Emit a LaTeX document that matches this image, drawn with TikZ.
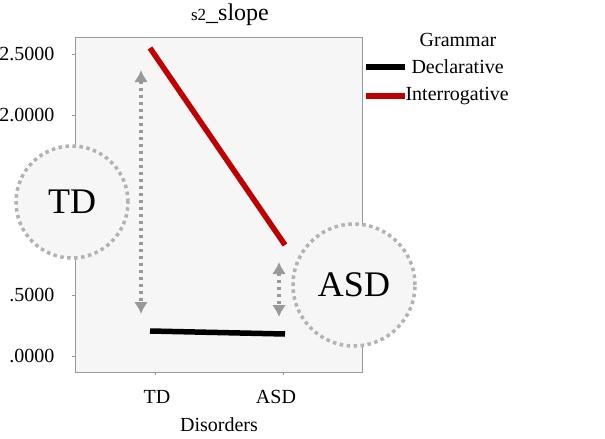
\documentclass[tikz,border=0pt]{standalone}
\usepackage{fontspec}
\setmainfont{Liberation Serif}
\begin{document}
\begin{tikzpicture}[x=1pt,y=-1pt,
  tick/.style={font=\fontsize{20}{22}\selectfont},
  circ/.style={circle,fill=gray!7,draw=gray!60,line width=3.5pt,dash pattern=on 3.5pt off 3.5pt,minimum size=#1,inner sep=0pt,font=\fontsize{36}{38}\selectfont},
  gap/.style={gray!80,line width=3.5pt,dash pattern=on 3.5pt off 3.5pt,<->,>={Latex[length=12pt,width=14pt]}}]
\usetikzlibrary{arrows.meta}
\useasboundingbox (0,0) rectangle (605,439);
\fill[white] (0,0) rectangle (605,439);
\node[font=\fontsize{24}{26}\selectfont] (title) at (230,15) {{\fontsize{17}{18}\selectfont s2}\_slope};
\draw[gray!80,fill=gray!7] (75,37) rectangle (362,372);
\foreach \v/\y in {2.5000/54,2.0000/115,.5000/295,.0000/356}{
  \draw[gray!80] (72,\y) -- (75,\y);
  \node[tick,anchor=east] at (58,\y) {\v};}
\draw[gray!80] (155,372) -- (155,375);
\draw[gray!80] (283,372) -- (283,375);
\node[tick] (xtd) at (157,397) {TD};
\node[tick] (xasd) at (276,397) {ASD};
\node[tick] (xl) at (219,425) {Disorders};
\coordinate (r1) at (150,48); \coordinate (r2) at (285,245);
\coordinate (b1) at (150,331); \coordinate (b2) at (285,334);
\draw[red!75!black,line width=5.5pt] (r1) -- (r2);
\draw[black,line width=5.5pt] (b1) -- (b2);
\coordinate (a1) at (141,70); \coordinate (a2) at (141,314);
\coordinate (c1) at (279,262); \coordinate (c2) at (279,317);
\draw[gap] (a1) -- (a2);
\draw[gap] (c1) -- (c2);
\node[circ=112pt] (td) at (72,202) {TD};
\node[circ=122pt] (asd) at (354,285) {ASD};
\node[tick] (lg) at (458,40) {Grammar};
\coordinate (l1a) at (366,67); \coordinate (l1b) at (405,67);
\coordinate (l2a) at (366,96); \coordinate (l2b) at (405,96);
\draw[black,line width=5.5pt] (l1a) -- (l1b);
\draw[red!75!black,line width=5.5pt] (l2a) -- (l2b);
\node[tick,anchor=west] (ld) at (408,67) {Declarative};
\node[tick,anchor=west] (li) at (402,96) {Interrogative};
\end{tikzpicture}
\end{document}
